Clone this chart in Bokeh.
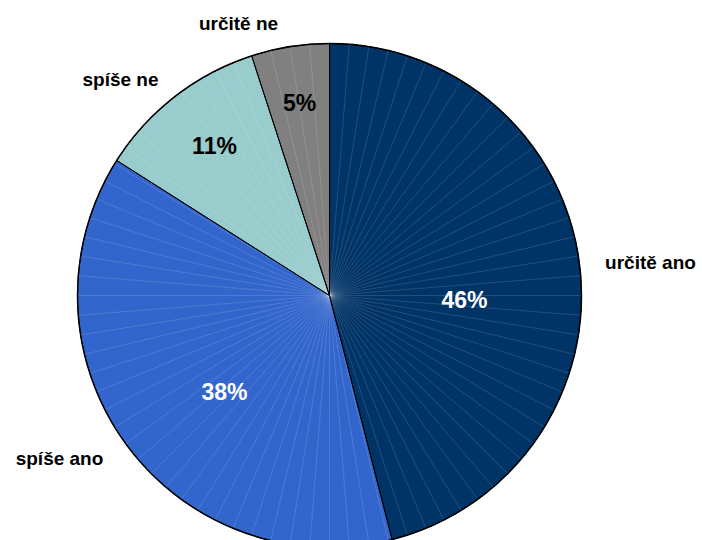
import math
from bokeh.plotting import figure
from bokeh.models import Range1d, ColumnDataSource
from bokeh.core.properties import value
from bokeh.embed import file_html
from bokeh.resources import INLINE

# data
categories = ["určitě ano", "spíše ano", "spíše ne", "určitě ne"]
shares = [46, 38, 11, 5]
pct_labels = ["46%", "38%", "11%", "5%"]
colors = ["#003366", "#3366CC", "#99CCCC", "#808080"]
pct_colors = ["white", "white", "black", "black"]

# layout (screen pixel coordinates of the page)
W, H = 702, 540
CX, CY, R = 329, 295, 252
cat_pos = [(650, 262), (59, 458), (120, 79), (238, 23)]
pct_pos = [(464, 299), (224, 391), (214, 145), (299, 102)]


def ty(y):
    return H - y


p = figure(width=W, height=H, output_backend="svg", toolbar_location=None,
           x_range=Range1d(0, W), y_range=Range1d(0, H),
           min_border=0)
p.axis.visible = False
p.grid.visible = False
p.outline_line_color = None
p.background_fill_color = "white"

total = sum(shares)
cum = 0
starts, ends = [], []
for s in shares:
    starts.append(math.radians(90 - cum / total * 360))
    cum += s
    ends.append(math.radians(90 - cum / total * 360))

src = ColumnDataSource(dict(start=starts, end=ends, color=colors))
p.wedge(x=CX, y=ty(CY), radius=R, radius_units="screen", start_angle="start",
        end_angle="end", direction="clock", fill_color="color",
        line_color=None, source=src)

# faint gradient-like spokes
n = 80
sx0, sy0, sx1, sy1 = [], [], [], []
for i in range(n):
    a = 2 * math.pi * i / n
    sx0.append(CX)
    sy0.append(ty(CY))
    sx1.append(CX + R * math.cos(a))
    sy1.append(ty(CY) + R * math.sin(a))
p.segment(x0=sx0, y0=sy0, x1=sx1, y1=sy1, line_color="white",
          line_alpha=0.2, line_width=0.7)

# slice borders
p.wedge(x=CX, y=ty(CY), radius=R, radius_units="screen", start_angle="start",
        end_angle="end", direction="clock", fill_color=None,
        line_color="black", line_width=1, source=src)
p.circle(x=CX, y=ty(CY), radius=R, radius_units="screen", fill_color=None,
         line_color="black", line_width=1.5)

p.text(x=[q[0] for q in pct_pos], y=[ty(q[1]) for q in pct_pos], text=pct_labels,
       text_color=pct_colors, text_font=value("Liberation Sans"),
       text_font_style="bold", text_font_size="23px", text_align="center",
       text_baseline="middle")
p.text(x=[q[0] for q in cat_pos], y=[ty(q[1]) for q in cat_pos], text=categories,
       text_color="black", text_font=value("Liberation Sans"),
       text_font_style="bold", text_font_size="19px", text_align="center",
       text_baseline="middle")

open("out.html", "w").write(file_html(p, INLINE))
